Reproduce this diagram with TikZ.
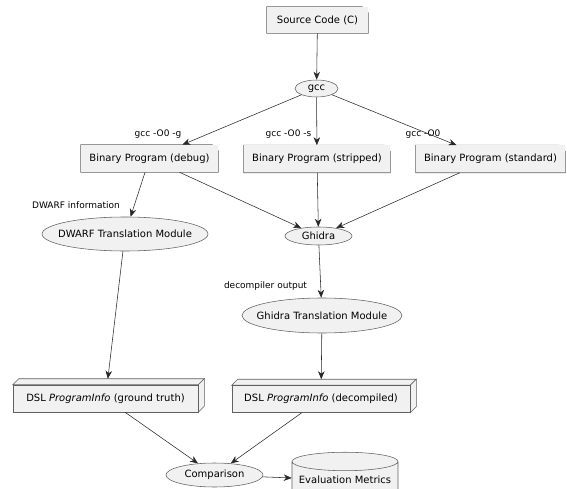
\documentclass[tikz,border=0pt]{standalone}
\usepackage{fontspec}
\setmainfont{DejaVu Sans}
\usetikzlibrary{arrows.meta,shapes.geometric}
\definecolor{boxfill}{HTML}{F1F1F1}
\definecolor{edge}{HTML}{282828}
\definecolor{rim}{HTML}{606060}

\begin{document}
\begin{tikzpicture}[x=1pt,y=-1pt,line width=0.55pt,
        font=\fontsize{10}{12}\selectfont,
        arr/.style={draw=edge, -{Stealth[length=8pt,width=6.5pt,inset=2.5pt]}},
        lbl/.style={font=\fontsize{9}{11}\selectfont, inner sep=0pt},
        oval/.style={ellipse, draw=rim, fill=boxfill, inner xsep=-10pt, inner ysep=0pt},
        note/.style={fill=boxfill, inner xsep=2pt, minimum height=27pt,
            append after command={\pgfextra{
                \fill[white] ([xshift=-6pt]\tikzlastnode.north east) -- (\tikzlastnode.north east)
                    -- ([yshift=-6pt]\tikzlastnode.north east) -- cycle;
                \draw[rim] (\tikzlastnode.south west) -- (\tikzlastnode.north west)
                    -- ([xshift=-6pt]\tikzlastnode.north east) -- ([yshift=-6pt]\tikzlastnode.north east)
                    -- (\tikzlastnode.south east) -- cycle;
                \draw[rim] ([xshift=-6pt]\tikzlastnode.north east) -- ([xshift=-6pt,yshift=-6pt]\tikzlastnode.north east)
                    -- ([yshift=-6pt]\tikzlastnode.north east);
            }}},
        crate/.style={fill=boxfill, draw=rim, inner xsep=2pt, minimum height=27pt,
            append after command={\pgfextra{
                \filldraw[fill=boxfill, draw=rim] (\tikzlastnode.north west) -- ++(6pt,6pt)
                    -- ([shift={(6pt,6pt)}]\tikzlastnode.north east) -- (\tikzlastnode.north east) -- cycle;
                \filldraw[fill=boxfill, draw=rim] (\tikzlastnode.north east) -- ++(6pt,6pt)
                    -- ([shift={(6pt,6pt)}]\tikzlastnode.south east) -- (\tikzlastnode.south east) -- cycle;
            }}}]
    \useasboundingbox (0,0) rectangle (567,489);

    % sources and compilation
    \node[note, minimum width=101pt, minimum height=26pt] (src) at (317.5,20) {Source Code (C)};
    \node[oval, minimum width=43pt, minimum height=17pt] (gcc) at (316.5,88.5) {gcc};
    \node[note, minimum width=137pt] (debug) at (149.5,158.5) {Binary Program (debug)};
    \node[note, minimum width=146pt] (stripped) at (317,159) {Binary Program (stripped)};
    \node[note, minimum width=149pt] (standard) at (490.5,159) {Binary Program (standard)};

    % translation
    \node[oval, minimum width=166pt, minimum height=34pt] (dwarf) at (125,234) {DWARF Translation Module};
    \node[oval, minimum width=67pt, minimum height=18pt] (ghidra) at (318.5,236) {Ghidra};
    \node[oval, minimum width=160pt, minimum height=35pt] (gtm) at (322,315.5) {Ghidra Translation Module};

    \node[crate, minimum width=185pt] (dslgt) at (105.5,398.5) {DSL \textit{ProgramInfo} (ground truth)};
    \node[crate, minimum width=178pt] (dsldec) at (321,399) {DSL \textit{ProgramInfo} (decompiled)};

    % evaluation
    \node[oval, minimum width=97pt, minimum height=24pt] (comp) at (214.5,475) {Comparison};
    \node[cylinder, shape border rotate=90, aspect=0.2, draw=rim, fill=boxfill,
          minimum width=106pt, minimum height=46pt, inner sep=0pt] (metrics) at (345,480) {Evaluation Metrics};

    % edge labels
    \node[lbl] (lg) at (158,134) {gcc -O0 -g};
    \node[lbl] (ls) at (288.5,134) {gcc -O0 -s};
    \node[lbl] (lo) at (423,134) {gcc -O0};
    \node[lbl] (ldw) at (76,205) {DWARF information};
    \node[lbl] (ldc) at (265.5,286) {decompiler output};

    \draw[arr] (src) -- (gcc);
    \draw[arr] (gcc) -- (debug);
    \draw[arr] (gcc) -- (stripped);
    \draw[arr] (gcc) -- (standard);
    \draw[arr] (debug) -- (dwarf);
    \draw[arr] (debug) -- (ghidra);
    \draw[arr] (stripped) -- (ghidra);
    \draw[arr] (standard) -- (ghidra);
    \draw[arr] (ghidra) -- (gtm);
    \draw[arr, shorten >=6pt] (dwarf) -- (dslgt);
    \draw[arr, shorten >=6pt] (gtm) -- (dsldec);
    \draw[arr] (dslgt) -- (comp);
    \draw[arr] (dsldec) -- (comp);
    \draw[arr] (comp) -- (metrics);
\end{tikzpicture}
\end{document}
